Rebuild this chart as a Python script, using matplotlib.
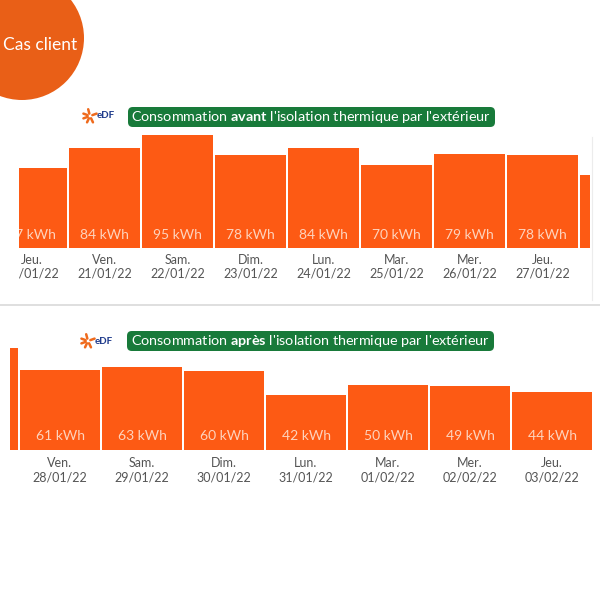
import matplotlib.pyplot as plt
import numpy as np
from matplotlib.patches import FancyBboxPatch, Circle
from matplotlib.lines import Line2D

plt.rcParams['font.family'] = ['Lato', 'DejaVu Sans']
plt.rcParams['mathtext.fontset'] = 'custom'
plt.rcParams['mathtext.rm'] = 'Lato'
plt.rcParams['mathtext.bf'] = 'Lato:bold'

# data
top_days = ['Jeu.', 'Ven.', 'Sam.', 'Dim.', 'Lun.', 'Mar.', 'Mer.', 'Jeu.', 'Ven.']
top_dates = ['20/01/22', '21/01/22', '22/01/22', '23/01/22', '24/01/22',
             '25/01/22', '26/01/22', '27/01/22', '28/01/22']
top_values = [67, 84, 95, 78, 84, 70, 79, 78, 61]

bot_days = ['Jeu.', 'Ven.', 'Sam.', 'Dim.', 'Lun.', 'Mar.', 'Mer.', 'Jeu.']
bot_dates = ['27/01/22', '28/01/22', '29/01/22', '30/01/22', '31/01/22',
             '01/02/22', '02/02/22', '03/02/22']
bot_values = [78, 61, 63, 60, 42, 50, 49, 44]

orange = '#fd5a14'
green = '#187a3a'
label_col = '#555555'
value_col = '#fdd3bd'

W, H = 600, 600
fig = plt.figure(figsize=(6, 6), dpi=100)
fig.patch.set_facecolor('white')


def px_axes(left, top, right, bottom):
    return fig.add_axes([left / W, 1 - bottom / H, (right - left) / W, (bottom - top) / H])


def fx(x):
    return x / W


def fy(y):
    return 1 - y / H


def draw_panel(ax, days, dates, values, width, xlim, ylim, off_val, off_day, off_date):
    x = np.arange(len(values))
    ax.bar(x, values, width=width, color=orange, edgecolor='none')
    ax.set_xlim(*xlim)
    ax.set_ylim(*ylim)
    ax.axis('off')
    ax.patch.set_visible(False)
    for i, v in enumerate(values):
        ax.annotate(f'{v} kWh', xy=(i, 0), xytext=(0, off_val), textcoords='offset points',
                    ha='center', va='center', fontsize=10, color=value_col, clip_on=True)
        ax.annotate(days[i], xy=(i, 0), xytext=(0, off_day), textcoords='offset points',
                    ha='center', va='center', fontsize=9, color=label_col, clip_on=True)
        ax.annotate(dates[i], xy=(i, 0), xytext=(0, off_date), textcoords='offset points',
                    ha='center', va='center', fontsize=9, color=label_col, clip_on=True)


def header(cx, cy, word, left, right, top, bottom):
    box = FancyBboxPatch((fx(left), fy(bottom)), fx(right - left), (bottom - top) / H,
                         boxstyle='round,pad=0,rounding_size=0.008',
                         transform=fig.transFigure, fc=green, ec='none')
    fig.patches.append(box)
    fig.text(fx(cx), fy(cy), "Consommation $\\mathbf{" + word + "}$ l'isolation thermique par l'extérieur",
             ha='center', va='center', color='white', fontsize=10.4)


def edf_logo(x, y):
    # little orange rays + "eDF"
    angles = [160, 200, 245, 295, 105, 20]
    for a in angles:
        r0, r1 = 2.5, 7
        t = np.deg2rad(a)
        fig.lines.append(Line2D([fx(x + r0 * np.cos(t)), fx(x + r1 * np.cos(t))],
                                [fy(y - r0 * np.sin(t)), fy(y - r1 * np.sin(t))],
                                transform=fig.transFigure, color='#ef6a1c', lw=1.8,
                                solid_capstyle='round'))
    fig.text(fx(x + 7), fy(y), 'eDF', ha='left', va='center', fontsize=7,
             fontweight='bold', color='#1f3b8c')


# "Cas client" badge
fig.patches.append(Circle((fx(22), fy(38)), 62 / W, transform=fig.transFigure,
                          fc='#e95f17', ec='none'))
fig.text(fx(40), fy(45), 'Cas client', ha='center', va='center', color='white', fontsize=12.5)

# top panel
header(311, 117, 'avant', 128, 495, 107, 127)
edf_logo(90, 116)
ax1 = px_axes(19, 125, 590, 292)
draw_panel(ax1, top_days, top_dates, top_values, 71 / 73,
           ((19 - 31.5) / 73, (590 - 31.5) / 73),
           (-(292 - 248) / 1.19, (248 - 125) / 1.19),
           9.4, -8.6, -18)

# faint frame of the top screenshot and separator
fig.lines.append(Line2D([fx(592), fx(592)], [fy(137), fy(300)], transform=fig.transFigure,
                        color='#ececec', lw=0.8))
fig.lines.append(Line2D([0, 1], [fy(305), fy(305)], transform=fig.transFigure,
                        color='#d9d9d9', lw=1.2))

# bottom panel
header(310, 341, 'après', 127, 494, 331, 351)
edf_logo(88, 341)
ax2 = px_axes(10, 340, 600, 492)
draw_panel(ax2, bot_days, bot_dates, bot_values, 80 / 82,
           ((10 + 22) / 82, (600 + 22) / 82),
           (-(492 - 450) / 1.31, (450 - 340) / 1.31),
           10, -9.4, -20)

fig.savefig('out.png', dpi=100, facecolor='white')
